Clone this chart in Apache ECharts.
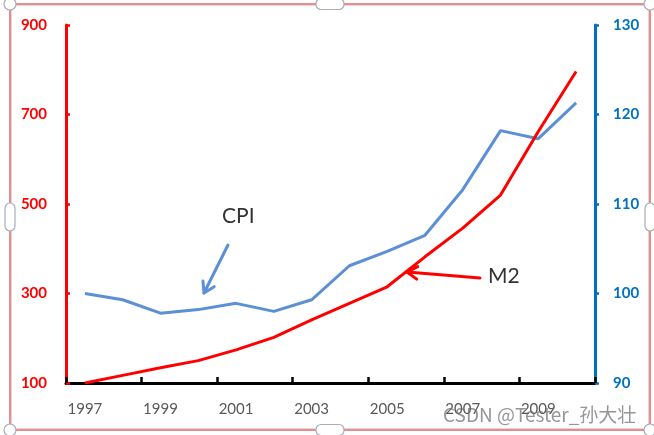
<!DOCTYPE html>
<html><head><meta charset="utf-8">
<script src="https://cdn.jsdelivr.net/npm/echarts@6/dist/echarts.min.js"></script>
<style>html,body{margin:0;padding:0;background:#fff}#c{width:654px;height:435px}</style>
</head><body><div id="c"></div>
<script>
const years = ['1997','1998','1999','2000','2001','2002','2003','2004','2005','2006','2007','2008','2009','2010'];
const m2 = [100, 117, 134, 150, 174, 202, 241, 278, 315, 382, 446, 520, 662, 796];
const cpi = [100.0, 99.3, 97.8, 98.2, 98.9, 98.0, 99.3, 103.1, 104.7, 106.5, 111.6, 118.2, 117.3, 121.3];
const leftTicks = [100, 300, 500, 700, 900];
const rightTicks = [90, 100, 110, 120, 130];

const FONT = 'Lato, "Open Sans", sans-serif';
const chart = echarts.init(document.getElementById('c'), null, {renderer:'canvas'});

function arrow(x1,y1,x2,y2,color){
  const ang = Math.atan2(y2-y1, x2-x1);
  const L = 12, a = 0.55;
  const p1 = [x2 - L*Math.cos(ang - a), y2 - L*Math.sin(ang - a)];
  const p2 = [x2 - L*Math.cos(ang + a), y2 - L*Math.sin(ang + a)];
  return [
    {type:'line', shape:{x1,y1,x2,y2}, style:{stroke:color, lineWidth:3, lineCap:'round'}},
    {type:'polyline', shape:{points:[p1,[x2,y2],p2]}, style:{stroke:color, fill:null, lineWidth:3, lineCap:'round', lineJoin:'round'}}
  ];
}
function handle(cx,cy,w,h,r){
  return {type:'rect', shape:{x:cx-w/2, y:cy-h/2, width:w, height:h, r:r}, style:{fill:'#fff', stroke:'#a8aeb8', lineWidth:1.2}, z:200};
}

const graphics = [
  {type:'rect', shape:{x:10, y:4, width:640, height:426}, style:{fill:null, stroke:'#e09090', lineWidth:2}, z:150},
  {type:'rect', shape:{x:11.5, y:5.5, width:637, height:423}, style:{fill:null, stroke:'#f4d0d0', lineWidth:1}, z:150},
  handle(10,4,12,12,6), handle(650,4,12,12,6), handle(10,430,12,12,6), handle(650,430,12,12,6),
  handle(330,4,28,11,5), handle(330,430,28,11,5), handle(10,217,10,28,5), handle(650,217,10,28,5),
  ...arrow(228,245,204,293,'#5b8fd6'),
  ...arrow(480,278,407,272,'#ff0000'),
  {type:'text', left:222, top:206, style:{text:'CPI', font:'21px '+FONT, fill:'#333'}},
  {type:'text', left:488, top:266, style:{text:'M2', font:'21px '+FONT, fill:'#333'}},
  {type:'text', left:443, top:405, style:{text:'CSDN @Tester_孙大壮', font:'19px "Noto Sans CJK SC", "Noto Sans", sans-serif', fill:'rgba(110,110,110,0.72)'}, z:300}
];

chart.setOption({
  animation:false,
  backgroundColor:'#fff',
  grid:{left:66, right:59, top:25, bottom:52, containLabel:false},
  xAxis:{
    type:'category', data:years, boundaryGap:true,
    axisLine:{lineStyle:{color:'#000', width:3}},
    axisTick:{show:true, inside:true, length:6, interval:1, lineStyle:{color:'#000', width:2.5}},
    axisLabel:{interval:1, margin:19, color:'#595959', fontSize:15, fontFamily:FONT},
    splitLine:{show:false}
  },
  yAxis:[
    {type:'value', min:100, max:900, position:'left',
     axisLine:{show:true, lineStyle:{color:'#ff0000', width:3}},
     axisTick:{show:true, inside:true, length:4, customValues:leftTicks, lineStyle:{color:'#ff0000', width:2.5}},
     axisLabel:{customValues:leftTicks, margin:19, color:'#ff0000', fontWeight:'bold', fontSize:15, fontFamily:FONT},
     splitLine:{show:false}},
    {type:'value', min:90, max:130, interval:10, position:'right',
     axisLine:{show:true, lineStyle:{color:'#0070c0', width:3}},
     axisTick:{show:true, inside:false, length:4, lineStyle:{color:'#0070c0', width:2.5}},
     axisLabel:{margin:18, color:'#0070c0', fontWeight:'bold', fontSize:15, fontFamily:FONT},
     splitLine:{show:false}}
  ],
  series:[
    {name:'CPI', type:'line', yAxisIndex:1, data:cpi, symbol:'none', lineStyle:{color:'#5b8fd6', width:3}, z:3},
    {name:'M2', type:'line', yAxisIndex:0, data:m2, symbol:'none', lineStyle:{color:'#ff0000', width:3}, z:4}
  ],
  graphic:graphics
});
</script></body></html>
